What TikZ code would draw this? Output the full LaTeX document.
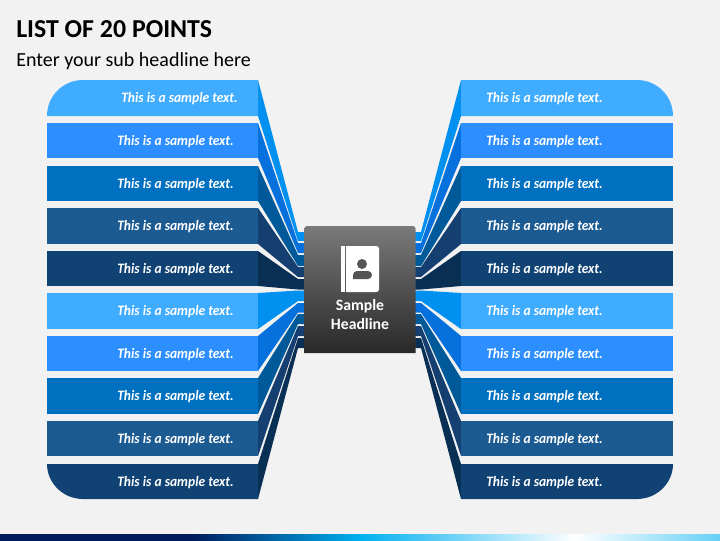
\documentclass[tikz,border=0pt]{standalone}
\usepackage{fontspec}
\setmainfont{Carlito}
\newfontfamily\barface[FakeStretch=0.94]{Carlito}
\definecolor{pagebg}{HTML}{F2F2F2}
\definecolor{barA}{HTML}{40ACFF}\definecolor{sideA}{HTML}{0091F0}
\definecolor{barB}{HTML}{2D8FFF}\definecolor{sideB}{HTML}{0670DC}
\definecolor{barC}{HTML}{0070C0}\definecolor{sideC}{HTML}{005A9A}
\definecolor{barD}{HTML}{1C5A92}\definecolor{sideD}{HTML}{153F70}
\definecolor{barE}{HTML}{104274}\definecolor{sideE}{HTML}{0A2F55}
\definecolor{hubtop}{HTML}{7A7A7A}\definecolor{hubbot}{HTML}{282828}
\definecolor{iconink}{HTML}{555555}
\definecolor{stripA}{HTML}{001A5C}\definecolor{stripB}{HTML}{00B0F0}
\tikzset{
  bartext/.style={text=white,font=\barface\fontsize{10.8pt}{12pt}\selectfont\bfseries\itshape,inner sep=0pt},
  hubtext/.style={text=white,font=\fontsize{11.8pt}{14.6pt}\selectfont\bfseries,align=center,inner sep=0pt},
}
\begin{document}
\begin{tikzpicture}[x=0.75pt,y=-0.75pt]
\useasboundingbox (0,0) rectangle (720,540);
\fill[pagebg] (0,0) rectangle (720,540);
% title
\node[anchor=base west,inner sep=0pt,font=\fontsize{19.4pt}{20pt}\selectfont\bfseries] (title) at (16,37) {LIST OF 20 POINTS};
\node[anchor=base west,inner sep=0pt,font=\fontsize{15pt}{16pt}\selectfont] (sub) at (16,66) {Enter your sub headline here};
% funnels and bars
\foreach \i/\t/\b/\ft/\fb/\c in {
 1/80/116/232/241/A, 2/123/158/243/253/B, 3/166/201/255/266/C, 4/208/244/267/277/D, 5/251/286/279/289.5/E,
 6/293/329/290.5/301/A, 7/336/371/303/312.5/B, 8/378/414/314/324/C, 9/421/456/326/336/D, 10/464/499/338/348/E}{
  \fill[side\c] (258,\t) -- (298,\ft) -- (305,\ft) -- (305,\fb) -- (298,\fb) -- (258,\b) -- cycle;
  \fill[side\c] (461,\t) -- (421,\ft) -- (415,\ft) -- (415,\fb) -- (421,\fb) -- (461,\b) -- cycle;
  \ifnum\i=1\relax
    \fill[bar\c] (47,\b) .. controls (47,96) and (63,\t) .. (83,\t) -- (258,\t) -- (258,\b) -- cycle;
    \fill[bar\c] (673,\b) .. controls (673,96) and (657,\t) .. (637,\t) -- (461,\t) -- (461,\b) -- cycle;
  \else\ifnum\i=10\relax
    \fill[bar\c] (47,\t) .. controls (47,483) and (63,\b) .. (83,\b) -- (258,\b) -- (258,\t) -- cycle;
    \fill[bar\c] (673,\t) .. controls (673,483) and (657,\b) .. (637,\b) -- (461,\b) -- (461,\t) -- cycle;
  \else
    \fill[bar\c] (47,\t) rectangle (258,\b);
    \fill[bar\c] (461,\t) rectangle (673,\b);
  \fi\fi
  \pgfmathsetmacro{\ym}{(\t+\b)/2+0.8}
  \ifnum\i=1\relax
    \node[bartext,anchor=east] (L\i) at (238,\ym) {This is a sample text.};
  \else
    \node[bartext,anchor=east] (L\i) at (234,\ym) {This is a sample text.};
  \fi
  \node[bartext,anchor=west] (R\i) at (486,\ym) {This is a sample text.};
}
% hub
\shade[top color=hubtop,bottom color=hubbot,rounded corners=2pt] (304.5,353) [sharp corners] -- (304.5,353) [rounded corners=2pt] -- (304.5,226) -- (415.5,226) [sharp corners] -- (415.5,353) -- cycle;
\node[hubtext] (hub) at (360,314.5) {Sample\\Headline};
% icon
\fill[white] (341,246) rectangle (345,292);
\fill[white,rounded corners=2pt] (346,246) [sharp corners] -- (346,246) [rounded corners=2pt] -- (379,246) -- (379,292) [sharp corners] -- (346,292) -- cycle;
\fill[iconink] (362,264) circle[radius=5];
\fill[iconink,rounded corners=3pt] (353,279) -- (353,271) -- (372,271) -- (372,279) [sharp corners] -- cycle;
% strip
\shade[left color=stripA,right color=stripA] (0,534) rectangle (190,540);
\shade[left color=stripA,right color=stripB] (190,534) rectangle (360,540);
\shade[left color=stripB,right color=white] (360,534) rectangle (575,540);
\shade[left color=white,right color=stripB!60] (575,534) rectangle (720,540);
\end{tikzpicture}
\end{document}
